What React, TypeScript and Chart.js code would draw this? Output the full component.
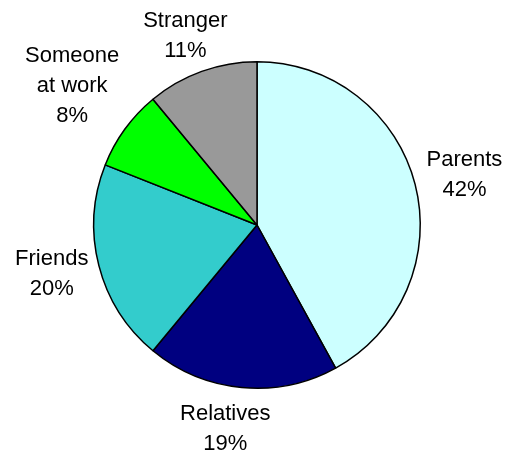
import React, { useEffect, useRef } from "react";
import { Chart, registerables } from "chart.js";

Chart.register(...registerables);

const categories = ["Parents", "Relatives", "Friends", "Someone at work", "Stranger"];
const labelLines = [["Parents"], ["Relatives"], ["Friends"], ["Someone", "at work"], ["Stranger"]];
const values = [42, 19, 20, 8, 11];
const colors = ["#CCFFFF", "#000080", "#33CCCC", "#00FF00", "#999999"];

const FONT_SIZE = 22;
const LINE_H = 30;
const GAP = 12;

// small per-label adjustments to mimic the original label placement
const labelNudge: [number, number][] = [
  [1, 1],
  [-11, 0],
  [0, -2],
  [-5, -10],
  [2, 4],
];

const labelPlugin = {
  id: "outerLabels",
  afterDraw(chart: any) {
    const ctx = chart.ctx;
    const meta = chart.getDatasetMeta(0);
    const total = values.reduce((a, b) => a + b, 0);
    ctx.save();
    ctx.font = `${FONT_SIZE}px "Liberation Sans", Arial, sans-serif`;
    ctx.fillStyle = "#000";
    ctx.textAlign = "center";
    ctx.textBaseline = "middle";
    meta.data.forEach((arc: any, i: number) => {
      const p = arc.getProps(["x", "y", "startAngle", "endAngle", "outerRadius"], true);
      const mid = (p.startAngle + p.endAngle) / 2;
      const c = Math.cos(mid);
      const s = Math.sin(mid);
      const lines = [...labelLines[i], Math.round((values[i] / total) * 100) + "%"];
      const w = Math.max(...lines.map((l) => ctx.measureText(l).width));
      const h = lines.length * LINE_H;
      const r = p.outerRadius + GAP;
      const cx = p.x + r * c + (c * w) / 2 + labelNudge[i][0];
      const cy = p.y + r * s + (s * h) / 2 + labelNudge[i][1];
      lines.forEach((l, k) => {
        ctx.fillText(l, cx, cy - h / 2 + LINE_H * (k + 0.5));
      });
    });
    ctx.restore();
  },
};

export default function App() {
  const ref = useRef<HTMLCanvasElement>(null);
  useEffect(() => {
    if (!ref.current) return;
    const chart = new Chart(ref.current, {
      type: "pie",
      data: {
        labels: categories,
        datasets: [
          {
            data: values,
            backgroundColor: colors,
            borderColor: "#000",
            borderWidth: 1.5,
          },
        ],
      },
      options: {
        animation: false,
        responsive: false,
        layout: { padding: { top: 61, bottom: 64, left: 93, right: 88 } },
        plugins: { legend: { display: false }, tooltip: { enabled: false } },
      },
      plugins: [labelPlugin],
    });
    return () => chart.destroy();
  }, []);
  return (
    <div style={{ position: "fixed", left: 0, top: 0, width: 509, height: 453, background: "#fff" }}>
      <canvas ref={ref} width={509} height={453} />
    </div>
  );
}
